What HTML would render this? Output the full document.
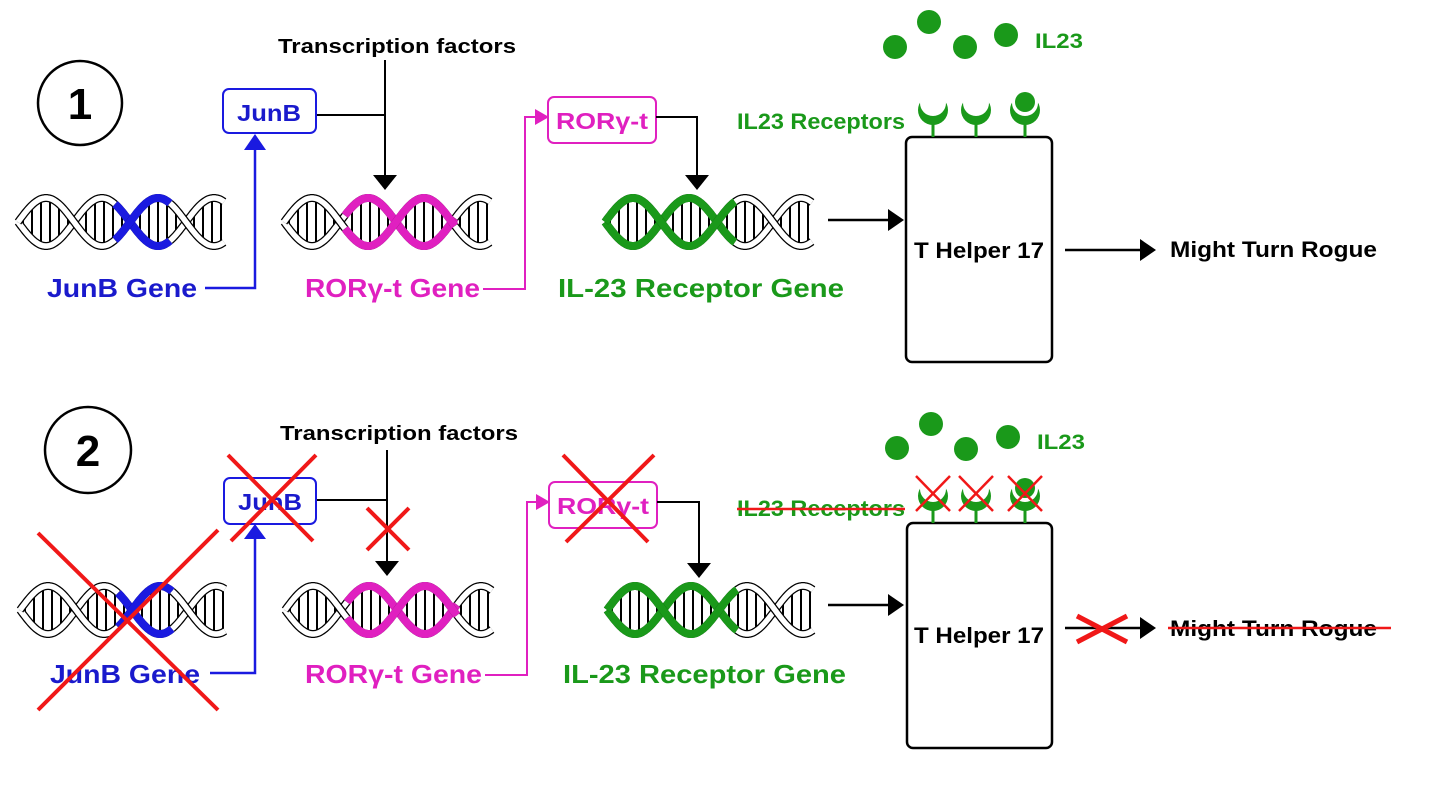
<!DOCTYPE html>
<html><head><meta charset="utf-8"><style>
html,body{margin:0;padding:0;background:#fff;width:1440px;height:799px;overflow:hidden}
svg{display:block}
text{font-family:"Liberation Sans",sans-serif;font-weight:bold}
</style></head><body>
<svg id="s" width="1440" height="799" viewBox="0 0 1440 799" xmlns="http://www.w3.org/2000/svg">
<g id="dna"></g>
<g id="main" stroke-linecap="butt">
<circle cx="80" cy="103" r="42" fill="none" stroke="#000" stroke-width="2.5"/>
<text x="80" y="119" font-size="44" text-anchor="middle" fill="#000">1</text>
<text x="397" y="53" font-size="20" text-anchor="middle" fill="#000" textLength="238" lengthAdjust="spacingAndGlyphs">Transcription factors</text>
<line x1="385" y1="60" x2="385" y2="176" stroke="#000" stroke-width="2"/>
<polygon points="373,175 397,175 385,190" fill="#000"/>
<line x1="316" y1="115" x2="385" y2="115" stroke="#000" stroke-width="2"/>
<rect x="223" y="89" width="93" height="44" rx="6" fill="#fff" stroke="#1a1ae0" stroke-width="2"/>
<text x="269" y="121" font-size="23" text-anchor="middle" fill="#1a1acc" textLength="64" lengthAdjust="spacingAndGlyphs">JunB</text>
<polyline points="205,288 255,288 255,148" fill="none" stroke="#1a1ae0" stroke-width="2.5"/>
<polygon points="244,150 266,150 255,134" fill="#1a1ae0"/>
<text x="47" y="297" font-size="26" fill="#1a1acc" textLength="150" lengthAdjust="spacingAndGlyphs">JunB Gene</text>
<rect x="548" y="97" width="108" height="46" rx="6" fill="#fff" stroke="#e020c0" stroke-width="2"/>
<text x="602" y="129" font-size="23" text-anchor="middle" fill="#e020c0" textLength="92" lengthAdjust="spacingAndGlyphs">ROR&#947;-t</text>
<polyline points="483,289 525,289 525,117 536,117" fill="none" stroke="#e020c0" stroke-width="2"/>
<polygon points="535,109 549,117 535,125" fill="#e020c0"/>
<text x="305" y="297" font-size="26" fill="#e020c0" textLength="175" lengthAdjust="spacingAndGlyphs">ROR&#947;-t Gene</text>
<polyline points="656,117 697,117 697,176" fill="none" stroke="#000" stroke-width="2"/>
<polygon points="685,175 709,175 697,190" fill="#000"/>
<text x="558" y="297" font-size="26" fill="#1a991a" textLength="286" lengthAdjust="spacingAndGlyphs">IL-23 Receptor Gene</text>
<line x1="828" y1="220" x2="890" y2="220" stroke="#000" stroke-width="2.5"/>
<polygon points="888,209 904,220 888,231" fill="#000"/>
<rect x="906" y="137" width="146" height="225" rx="6" fill="#fff" stroke="#000" stroke-width="2.5"/>
<text x="979" y="258" font-size="22" text-anchor="middle" fill="#000" textLength="130" lengthAdjust="spacingAndGlyphs">T Helper 17</text>
<line x1="1065" y1="250" x2="1142" y2="250" stroke="#000" stroke-width="2.5"/>
<polygon points="1140,239 1156,250 1140,261" fill="#000"/>
<text x="1170" y="257" font-size="22" fill="#000" textLength="207" lengthAdjust="spacingAndGlyphs">Might Turn Rogue</text>
<g fill="#1a991a">
<circle cx="895" cy="47" r="12"/><circle cx="929" cy="22" r="12"/><circle cx="965" cy="47" r="12"/><circle cx="1006" cy="35" r="12"/>
</g>
<text x="1035" y="48" font-size="21" fill="#1a991a" textLength="48" lengthAdjust="spacingAndGlyphs">IL23</text>
<text x="737" y="129" font-size="22" fill="#1a991a" textLength="168" lengthAdjust="spacingAndGlyphs">IL23 Receptors</text>
<g id="rec1"></g>

<circle cx="88" cy="450" r="43" fill="none" stroke="#000" stroke-width="2.5"/>
<text x="88" y="466" font-size="44" text-anchor="middle" fill="#000">2</text>
<text x="399" y="440" font-size="20" text-anchor="middle" fill="#000" textLength="238" lengthAdjust="spacingAndGlyphs">Transcription factors</text>
<line x1="387" y1="450" x2="387" y2="562" stroke="#000" stroke-width="2"/>
<polygon points="375,561 399,561 387,576" fill="#000"/>
<line x1="316" y1="500" x2="387" y2="500" stroke="#000" stroke-width="2"/>
<rect x="224" y="478" width="92" height="46" rx="6" fill="#fff" stroke="#1a1ae0" stroke-width="2"/>
<text x="270" y="510" font-size="23" text-anchor="middle" fill="#1a1acc" textLength="64" lengthAdjust="spacingAndGlyphs">JunB</text>
<polyline points="210,673 255,673 255,538" fill="none" stroke="#1a1ae0" stroke-width="2.5"/>
<polygon points="244,539 266,539 255,524" fill="#1a1ae0"/>
<text x="50" y="683" font-size="26" fill="#1a1acc" textLength="150" lengthAdjust="spacingAndGlyphs">JunB Gene</text>
<rect x="549" y="482" width="108" height="46" rx="6" fill="#fff" stroke="#e020c0" stroke-width="2"/>
<text x="603" y="514" font-size="23" text-anchor="middle" fill="#e020c0" textLength="92" lengthAdjust="spacingAndGlyphs">ROR&#947;-t</text>
<polyline points="485,675 527,675 527,502 537,502" fill="none" stroke="#e020c0" stroke-width="2"/>
<polygon points="536,494 550,502 536,510" fill="#e020c0"/>
<text x="305" y="683" font-size="26" fill="#e020c0" textLength="177" lengthAdjust="spacingAndGlyphs">ROR&#947;-t Gene</text>
<polyline points="657,502 699,502 699,564" fill="none" stroke="#000" stroke-width="2"/>
<polygon points="687,563 711,563 699,578" fill="#000"/>
<text x="563" y="683" font-size="26" fill="#1a991a" textLength="283" lengthAdjust="spacingAndGlyphs">IL-23 Receptor Gene</text>
<line x1="828" y1="605" x2="890" y2="605" stroke="#000" stroke-width="2.5"/>
<polygon points="888,594 904,605 888,616" fill="#000"/>
<rect x="907" y="523" width="145" height="225" rx="6" fill="#fff" stroke="#000" stroke-width="2.5"/>
<text x="979" y="643" font-size="22" text-anchor="middle" fill="#000" textLength="130" lengthAdjust="spacingAndGlyphs">T Helper 17</text>
<line x1="1065" y1="628" x2="1142" y2="628" stroke="#000" stroke-width="2.5"/>
<polygon points="1140,617 1156,628 1140,639" fill="#000"/>
<text x="1170" y="636" font-size="22" fill="#000" textLength="207" lengthAdjust="spacingAndGlyphs">Might Turn Rogue</text>
<g fill="#1a991a">
<circle cx="897" cy="448" r="12"/><circle cx="931" cy="424" r="12"/><circle cx="966" cy="449" r="12"/><circle cx="1008" cy="437" r="12"/>
</g>
<text x="1037" y="449" font-size="21" fill="#1a991a" textLength="48" lengthAdjust="spacingAndGlyphs">IL23</text>
<text x="737" y="516" font-size="22" fill="#1a991a" textLength="168" lengthAdjust="spacingAndGlyphs">IL23 Receptors</text>
<g id="rec2"></g>
</g>
<g id="red" stroke="#f01818" stroke-width="4" fill="none">
<line x1="38" y1="533" x2="218" y2="710"/><line x1="218" y1="530" x2="38" y2="710"/>
<line x1="228" y1="455" x2="313" y2="541"/><line x1="316" y1="455" x2="231" y2="541"/>
<line x1="367" y1="508" x2="409" y2="550"/><line x1="367" y1="550" x2="409" y2="508"/>
<line x1="563" y1="455" x2="648" y2="542"/><line x1="654" y1="455" x2="566" y2="542"/>
<line x1="1077" y1="616" x2="1127" y2="642" stroke-width="5"/><line x1="1077" y1="642" x2="1127" y2="616" stroke-width="5"/>
<line x1="737" y1="509" x2="905" y2="509" stroke-width="2.5"/>
<line x1="1168" y1="628" x2="1391" y2="628" stroke-width="2.5"/>
</g>
</svg>
<script>
var NS="http://www.w3.org/2000/svg";
function el(p,t,a){var e=document.createElementNS(NS,t);for(var k in a)e.setAttribute(k,a[k]);p.appendChild(e);return e;}
function helix(x0,x1,cy,hs,he,col){
  var g=document.getElementById('dna');var A=24,P=112;
  function y(x,ph){return cy+A*Math.sin((x-x0)/P*2*Math.PI+ph);}
  for(var x=x0+5;x<x1;x+=9){
    var a=y(x,0),b=y(x,Math.PI);
    if(Math.abs(a-b)<8)continue;
    el(g,'line',{x1:x,y1:Math.min(a,b)+2,x2:x,y2:Math.max(a,b)-2,stroke:'#000','stroke-width':2});
  }
  [0,Math.PI].forEach(function(ph){
    var segs=[[x0,hs,'#fff'],[hs,he,col],[he,x1,'#fff']];
    segs.forEach(function(s){
      if(s[1]<=s[0])return;
      var d='';for(var x=s[0];x<=s[1];x+=1){d+=(x==s[0]?'M':'L')+x+','+y(x,ph).toFixed(1);}
      el(g,'path',{d:d,fill:'none',stroke:'#000','stroke-width':8});
      el(g,'path',{d:d,fill:'none',stroke:s[2],'stroke-width':s[2]=='#fff'?5.5:8});
    });
  });
}
helix(18,224,222,115,170,'#1a1ae0');
helix(284,490,222,345,455,'#e020c0');
helix(605,812,222,605,735,'#1a991a');
helix(20,225,610,118,172,'#1a1ae0');
helix(285,492,610,347,457,'#e020c0');
helix(607,813,610,607,737,'#1a991a');
function receptors(id,top,crossed){
  var g=document.getElementById(id);
  [933,976,1025].forEach(function(cx,i){
    var cy=top-25;
    el(g,'line',{x1:cx,y1:cy+10,x2:cx,y2:top,stroke:'#1a991a','stroke-width':3});
    el(g,'circle',{cx:cx,cy:cy-2,r:15,fill:'#1a991a'});
    el(g,'circle',{cx:cx,cy:cy-9,r:13,fill:'#fff'});
    if(i==2)el(g,'circle',{cx:cx,cy:cy-10,r:10,fill:'#1a991a'});
    if(crossed){
      el(g,'line',{x1:cx-17,y1:cy-22,x2:cx+17,y2:cy+13,stroke:'#f01818','stroke-width':2.5});
      el(g,'line',{x1:cx+17,y1:cy-22,x2:cx-17,y2:cy+13,stroke:'#f01818','stroke-width':2.5});
    }
  });
}
receptors('rec1',137,false);
receptors('rec2',523,true);
</script>
</body></html>
